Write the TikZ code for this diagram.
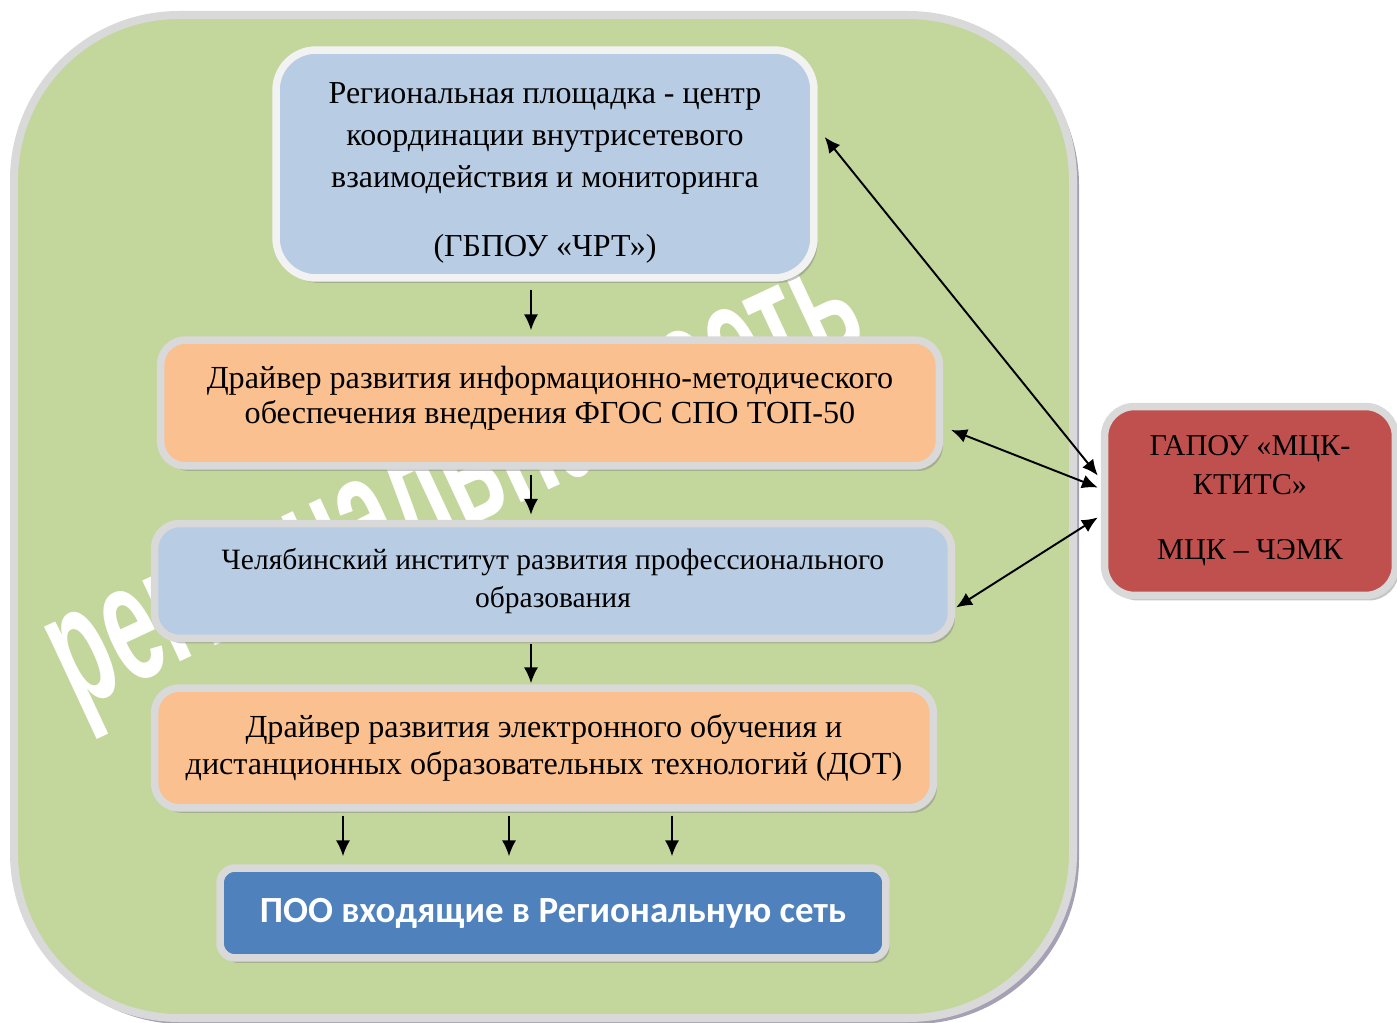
\documentclass[tikz,border=0pt]{standalone}
\usepackage{fontspec}
\setmainfont{Liberation Serif}
\newfontfamily\poofont{Carlito}
\newfontfamily\markfont{Liberation Sans}
\usetikzlibrary{arrows.meta, shadows}
\definecolor{netgreen}{RGB}{195,214,155}
\definecolor{rim}{RGB}{217,217,217}
\definecolor{rimlight}{RGB}{242,242,242}
\definecolor{rimshade}{RGB}{166,160,181}
\definecolor{paleblue}{RGB}{184,204,228}
\definecolor{peach}{RGB}{250,192,144}
\definecolor{steel}{RGB}{79,129,189}
\definecolor{brick}{RGB}{192,80,77}
\tikzstyle{net}=[draw=rim, line width=0.16cm, fill=netgreen, rounded corners=3.3cm]
\tikzstyle{unit}=[draw=rim, line width=0.15cm, rectangle, align=center, font=\fontsize{18.3}{21}\selectfont, drop shadow={shadow xshift=0.07cm, shadow yshift=-0.1cm, opacity=0.45}]
\tikzstyle{label-text}=[align=center, font=\fontsize{18.3}{19.8}\selectfont]
\tikzstyle{link}=[line width=1.1pt, {Latex[length=9pt,width=8pt]}-{Latex[length=9pt,width=8pt]}]
\tikzstyle{down}=[line width=1.1pt, -{Latex[length=9pt,width=8pt]}]

\begin{document}
\begin{tikzpicture}[x=0.02cm, y=-0.02cm]
\useasboundingbox (0,0) rectangle (1397,1023);

% outer field
\fill[rimshade, rounded corners=3.3cm] (18,20) rectangle (1079,1024);
\draw[net] (14,15) rectangle (1073,1018);

% watermark
\node[white, rotate=25, xscale=0.55, font=\markfont\bfseries\fontsize{96}{96}\selectfont] (mark) at (462,500) {региональная сеть};

% boxes
\node[unit, draw=rimlight, fill=paleblue, rounded corners=0.8cm, minimum width=10.76cm, minimum height=4.56cm] (reg) at (545,164) {};
\node[label-text, font=\fontsize{18.2}{23.8}\selectfont] (regtext) at (545,173)
  {Региональная площадка - центр\\ координации внутрисетевого\\ взаимодействия и мониторинга\\[0.54cm] (ГБПОУ «ЧРТ»)};
\node[unit, fill=peach, rounded corners=0.5cm, minimum width=15.58cm, minimum height=2.52cm] (drv1) at (550,403) {};
\node[label-text] (drv1text) at (550,398)
  {Драйвер развития информационно-методического\\ обеспечения внедрения ФГОС СПО ТОП-50};
\node[unit, fill=paleblue, rounded corners=0.5cm, minimum width=15.94cm, minimum height=2.3cm, font=\fontsize{16.8}{21.5}\selectfont] (inst) at (553,581)
  {Челябинский институт развития профессионального\\ образования};
\node[unit, fill=peach, rounded corners=0.5cm, minimum width=15.58cm, minimum height=2.4cm] (drv2) at (544,748)
  {Драйвер развития электронного обучения и\\ дистанционных образовательных технологий (ДОТ)};
\node[unit, fill=steel, text=white, rounded corners=0.3cm, minimum width=13.32cm, minimum height=1.8cm, font=\poofont\bfseries\fontsize{21}{24}\selectfont] (poo) at (553,913)
  {ПОО входящие в Региональную сеть};
\node[unit, fill=brick, rounded corners=0.6cm, minimum width=5.82cm, minimum height=3.78cm, font=\fontsize{17.2}{22}\selectfont] (mck) at (1250,501)
  {ГАПОУ «МЦК-\\ КТИТС»\\[0.54cm] МЦК – ЧЭМК};

% arrows down
\coordinate (spine) at (531,0);
\draw[down] ([yshift=-0.16cm]reg.south -| spine) -- ([yshift=0.12cm]drv1.north -| spine);
\draw[down] ([yshift=-0.1cm]drv1.south -| spine) -- ([yshift=0.1cm]inst.north -| spine);
\draw[down] ([yshift=-0.04cm]inst.south -| spine) -- ([yshift=0.02cm]drv2.north -| spine);
\foreach \x in {343,509,672}
{
  \draw[down] ([yshift=-0.08cm]drv2.south -| \x,0) -- ([yshift=0.16cm]poo.north -| \x,0);
}

% links to the red box
\draw[link] ([shift={(0.14cm,0.54cm)}]reg.east) -- ([shift={(-0.06cm,0.51cm)}]mck.west);
\draw[link] ([shift={(0.16cm,-0.54cm)}]drv1.east) -- ([shift={(-0.06cm,0.27cm)}]mck.west);
\draw[link] ([shift={(0.02cm,-0.53cm)}]inst.east) -- ([shift={(-0.06cm,-0.33cm)}]mck.west);
\end{tikzpicture}
\end{document}
